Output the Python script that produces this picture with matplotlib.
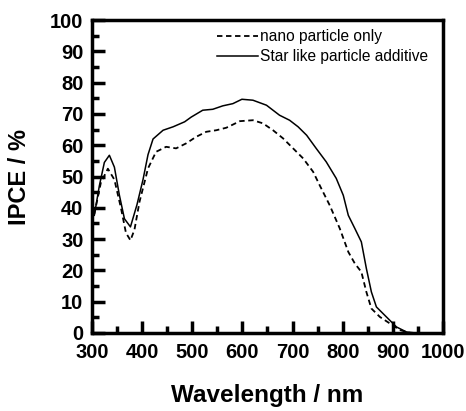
import matplotlib
matplotlib.use("Agg")
import matplotlib.pyplot as plt
from matplotlib.ticker import MultipleLocator

plt.rcParams['font.family'] = ['Liberation Sans', 'DejaVu Sans']

wl_star = [305, 315, 325, 335, 345, 355, 365, 377, 390, 402, 412, 422, 442, 462, 485, 498,
           521, 541, 561, 581, 599, 621, 648, 674, 694, 711, 728, 747, 767, 787, 801, 811,
           824, 837, 847, 857, 867, 887, 907, 927, 944]
ipce_star = [37.6, 47, 54.5, 56.8, 53, 44, 36.5, 33.9, 41, 49, 57, 62, 64.8, 65.9, 67.5, 69,
             71.2, 71.5, 72.6, 73.3, 74.7, 74.4, 72.8, 69.6, 68, 65.9, 63.2, 59, 54.7, 49.4,
             44, 37.6, 33.4, 29.1, 20.6, 13.1, 8.3, 5.1, 1.9, 0.3, 0]

wl_nano = [305, 318, 332, 345, 358, 368, 377, 385, 395, 412, 428, 448, 468, 488, 508, 528,
           548, 568, 581, 595, 621, 641, 661, 681, 701, 721, 741, 754, 774, 794, 811, 824,
           837, 847, 857, 874, 894, 914, 934]
ipce_nano = [38, 48, 52.5, 49, 40, 32, 29.6, 33, 41.9, 52.6, 57.9, 59.5, 59, 60.6, 62.7, 64.3,
             64.8, 65.6, 66.6, 67.7, 68.0, 67, 64.8, 62.2, 59, 55.8, 51.5, 47.2, 40.8, 33.4,
             25.9, 22.2, 19.5, 13.1, 7.8, 5.1, 3.0, 0.9, 0]

labels = ["nano particle only", "Star like particle additive"]

fig = plt.figure(figsize=(4.66, 4.11), dpi=100)
ax = fig.add_axes([0.197, 0.19, 0.754, 0.761])

ax.plot(wl_nano, ipce_nano, color='black', lw=1.3, ls=(0, (3, 2)), label=labels[0])
ax.plot(wl_star, ipce_star, color='black', lw=1.1, ls='-', label=labels[1])

ax.set_xlim(300, 1000)
ax.set_ylim(0, 100)
ax.xaxis.set_major_locator(MultipleLocator(100))
ax.xaxis.set_minor_locator(MultipleLocator(50))
ax.yaxis.set_major_locator(MultipleLocator(10))
ax.yaxis.set_minor_locator(MultipleLocator(5))
ax.tick_params(which='major', direction='in', length=9, width=2.5, labelsize=14.5)
ax.tick_params(axis='x', which='major', pad=7)
ax.tick_params(axis='y', which='major', pad=6)
ax.tick_params(which='minor', direction='in', length=5, width=2.5)
ax.tick_params(top=False, right=False, which='both')
for lab in ax.get_xticklabels() + ax.get_yticklabels():
    lab.set_fontweight('bold')
for s in ax.spines.values():
    s.set_linewidth(2.5)

ax.set_xlabel("Wavelength / nm", fontsize=17.5, fontweight='bold', labelpad=16)
ax.set_ylabel("IPCE / %", fontsize=17, fontweight='bold', labelpad=14)

leg = ax.legend(loc='upper right', bbox_to_anchor=(0.975, 0.99), frameon=False, fontsize=11.2,
                handlelength=2.6, handletextpad=0.15, labelspacing=0.3, borderaxespad=0.0)

fig.savefig("out.png", dpi=100)
